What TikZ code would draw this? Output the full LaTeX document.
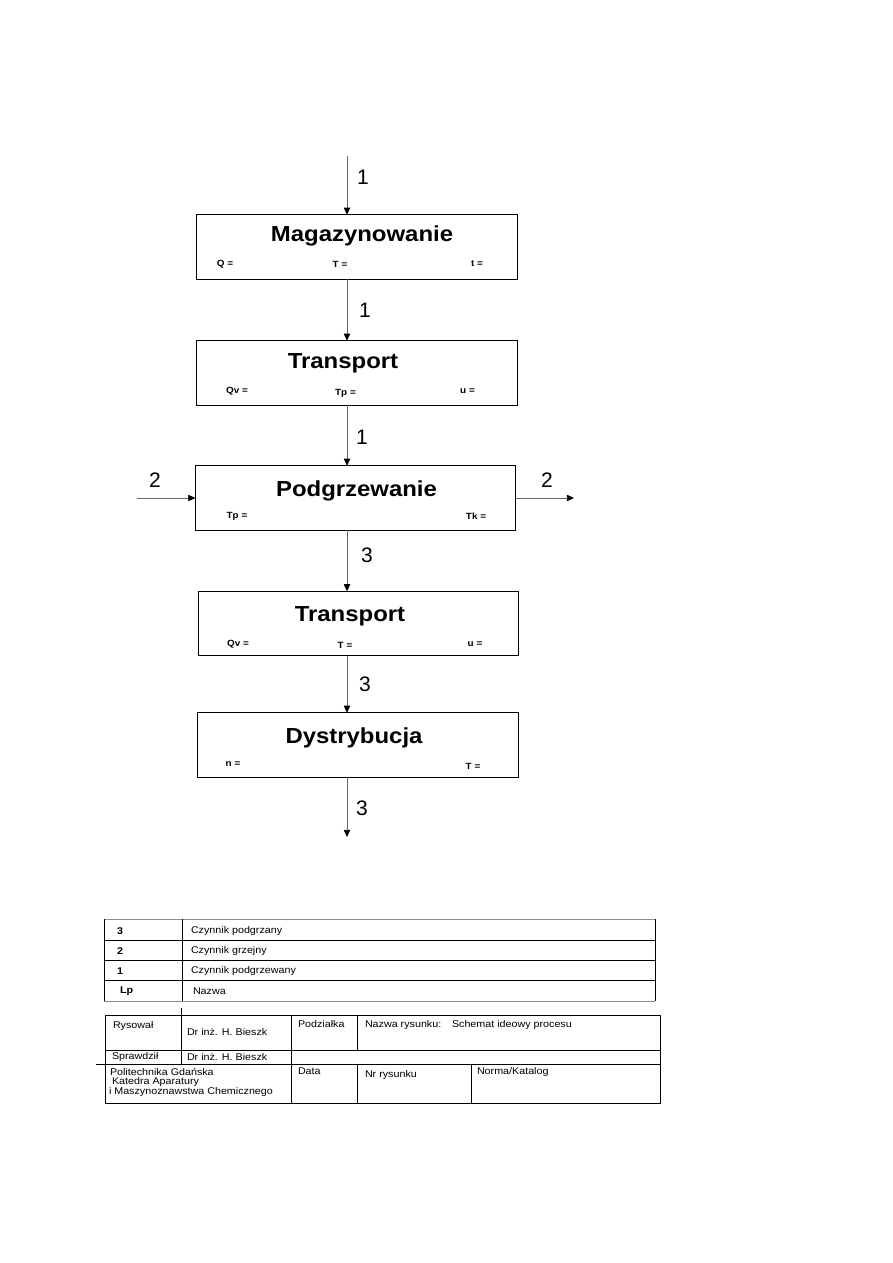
\documentclass[tikz,border=0pt]{standalone}
\usepackage{fontspec}
\setmainfont{Liberation Sans}
\newfontfamily\widefont[FakeStretch=1.1]{Liberation Sans}
\newfontfamily\headfont[FakeStretch=1.1]{Liberation Sans}
\usetikzlibrary{arrows.meta,positioning}

\begin{document}
\begin{tikzpicture}[x=0.6667pt, y=-0.6667pt, every node/.style={inner sep=0pt, outer sep=0pt}, box/.style={draw, line width=0.6pt, minimum width=213.5pt, minimum height=43pt}, title/.style={font=\headfont\bfseries\fontsize{14.5}{17}\selectfont}, par/.style={font=\widefont\bfseries\fontsize{6}{7}\selectfont}, flow/.style={draw=black!60, line width=0.5pt, -{Triangle[length=4.7pt, width=4.2pt, color=black]}}, flowlbl/.style={font=\fontsize{14}{16}\selectfont}, tbl/.style={line width=0.6pt}, cell/.style={anchor=west, font=\widefont\fontsize{6.5}{6.5}\selectfont, align=left}, num/.style={cell, font=\widefont\bfseries\fontsize{6.5}{6.5}\selectfont}]
\useasboundingbox (0,0) rectangle (893,1263);
% process blocks
\node[box] (b1) at (357,247) {};
\node[box] (b2) at (357,373) {};
\node[box] (b3) at (355.5,498) {};
\node[box] (b4) at (358.5,623.5) {};
\node[box] (b5) at (358,745) {};
\node[title] (t1) at (362,236) {Magazynowanie};
\node[title] (t2) at (343,363) {Transport};
\node[title] (t3) at (356.5,491) {Podgrzewanie};
\node[title] (t4) at (350,616) {Transport};
\node[title] (t5) at (354,738) {Dystrybucja};
\node[par] (q1) at (225,264) {Q =}; \node[par] (tt1) at (340,264) {T =}; \node[par] (c1) at (477,264) {t =};
\node[par] (q2) at (237,391) {Qv =}; \node[par] (tp2) at (345.5,393) {Tp =}; \node[par] (u2) at (467.5,391) {u =};
\node[par] (tp3) at (237,516) {Tp =}; \node[par] (tk3) at (476,516) {Tk =};
\node[par] (q4) at (238,644) {Qv =}; \node[par] (tt4) at (345,645) {T =}; \node[par] (u4) at (475,644) {u =};
\node[par] (n5) at (233,764) {n =}; \node[par] (tt5) at (473,766) {T =};
% streams
\coordinate (in1) at (347,156);
\coordinate (out3) at (347,837);
\coordinate (in2) at (137,498);
\coordinate (out2) at (574,498);
\draw[flow] (in1) -- (b1.north -| in1);
\draw[flow] (b1.south -| in1) -- (b2.north -| in1);
\draw[flow] (b2.south -| in1) -- (b3.north -| in1);
\draw[flow] (b3.south -| in1) -- (b4.north -| in1);
\draw[flow] (b4.south -| in1) -- (b5.north -| in1);
\draw[flow] (b5.south -| out3) -- (out3);
\draw[flow] (in2) -- (in2 -| b3.west);
\draw[flow] (out2 -| b3.east) -- (out2);
\node[flowlbl] (s1a) at (363,177) {1};
\node[flowlbl] (s1b) at (365,310) {1};
\node[flowlbl] (s1c) at (362,437) {1};
\node[flowlbl] (s2a) at (155,480) {2};
\node[flowlbl] (s2b) at (547,480) {2};
\node[flowlbl] (s3a) at (367,555) {3};
\node[flowlbl] (s3b) at (365,684) {3};
\node[flowlbl] (s3c) at (362,808) {3};
% legend
\draw[tbl, black!45] (104,919) -- (655,919); \draw[tbl, black!45] (104,1001) -- (655,1001);
\draw[tbl] (104,919) -- (104,1001); \draw[tbl] (655,919) -- (655,1001); \draw[tbl] (182,919) -- (182,1001);
\draw[tbl] (104,940) -- (655,940); \draw[tbl] (104,960) -- (655,960); \draw[tbl] (104,980) -- (655,980);
\node[num] (lp3) at (117,931) {3}; \node[cell] (nm3) at (191,931) {Czynnik podgrzany};
\node[num] (lp2) at (117,951) {2}; \node[cell] (nm2) at (191,951) {Czynnik grzejny};
\node[num] (lp1) at (117,971) {1}; \node[cell] (nm1) at (191,971) {Czynnik podgrzewany};
\node[num] (lp0) at (120,991) {Lp}; \node[cell] (nm0) at (193,991) {Nazwa};
% title block
\draw[tbl] (105,1015) rectangle (660,1103);
\draw[tbl] (96,1064) -- (660,1064); \draw[tbl] (105,1050) -- (660,1050);
\draw[tbl] (181,1008) -- (181,1064); \draw[tbl] (291,1015) -- (291,1103);
\draw[tbl] (357,1015) -- (357,1050); \draw[tbl] (357,1064) -- (357,1103); \draw[tbl] (471,1064) -- (471,1103);
\node[cell] (rys) at (113,1026) {Rysował};
\node[cell] (rysn) at (187,1032) {Dr inż. H. Bieszk};
\node[cell] (pdz) at (298,1024) {Podziałka};
\node[cell] (nzw) at (365,1025) {Nazwa rysunku:};
\node[cell] (sch) at (452,1025) {Schemat ideowy procesu};
\node[cell] (spr) at (112,1057) {Sprawdził};
\node[cell] (sprn) at (187,1057) {Dr inż. H. Bieszk};
\node[cell] (pg1) at (110,1072) {Politechnika Gdańska};
\node[cell] (pg2) at (112,1082) {Katedra Aparatury};
\node[cell] (pg3) at (109,1092) {i Maszynoznawstwa Chemicznego};
\node[cell] (dat) at (298,1071) {Data};
\node[cell] (nrr) at (365,1075) {Nr rysunku};
\node[cell] (nrm) at (477,1072) {Norma/Katalog};
\end{tikzpicture}
\end{document}
